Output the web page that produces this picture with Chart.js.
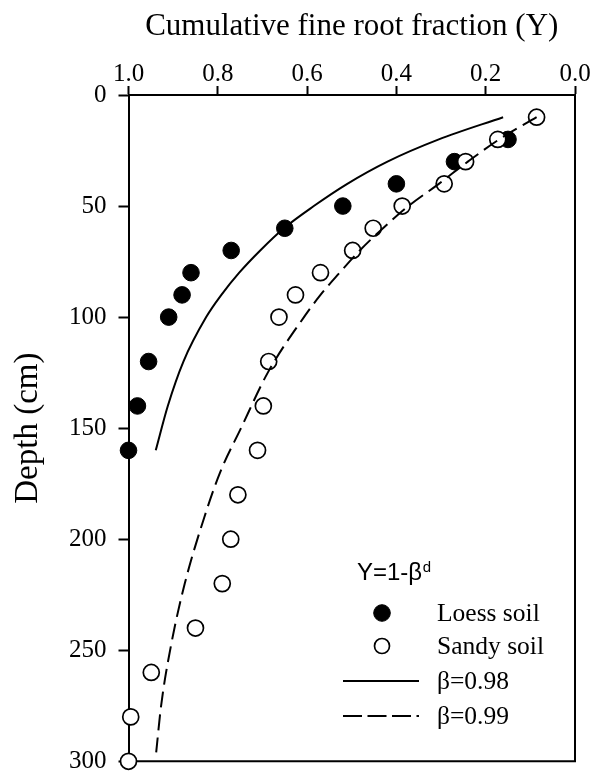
<!DOCTYPE html>
<html><head><meta charset="utf-8">
<script src="https://cdn.jsdelivr.net/npm/chart.js@4.4.0/dist/chart.umd.min.js"></script>
<style>html,body{margin:0;padding:0;background:#fff;}canvas{display:block;}</style>
</head><body>
<canvas id="c" width="603" height="771"></canvas>
<script>
// ---- data ----
const loessDepth = [20, 30, 40, 50, 60, 70, 80, 90, 100, 120, 140, 160];
const loessY     = [0.15, 0.27, 0.40, 0.52, 0.65, 0.77, 0.86, 0.88, 0.91, 0.955, 0.98, 1.0];

const sandyDepth = [10, 20, 30, 40, 50, 60, 70, 80, 90, 100, 120, 140, 160, 180, 200, 220, 240, 260, 280, 300];
const sandyY     = [0.086, 0.173, 0.245, 0.293, 0.387, 0.452, 0.498, 0.57, 0.626, 0.663, 0.686, 0.698, 0.711, 0.755, 0.771, 0.79, 0.85, 0.949, 0.995, 1.0];

const fit98Depth = [10, 20, 30, 40, 50, 60, 70, 80, 90, 100, 120, 140, 160];
const fit98Y     = [0.161, 0.305, 0.42, 0.51, 0.585, 0.652, 0.705, 0.752, 0.792, 0.826, 0.877, 0.912, 0.939];

const fit99Depth = [10, 20, 30, 40, 50, 60, 70, 80, 90, 100, 125, 150, 170, 190, 220, 247, 275, 296];
const fit99Y     = [0.086, 0.17, 0.24, 0.305, 0.373, 0.43, 0.482, 0.527, 0.57, 0.607, 0.688, 0.748, 0.795, 0.830, 0.874, 0.904, 0.927, 0.938];

const xTicks = [1.0, 0.8, 0.6, 0.4, 0.2, 0.0];
const yTicks = [0, 50, 100, 150, 200, 250, 300];
const seriesLabels = ['Loess soil', 'Sandy soil', 'β=0.98', 'β=0.99'];
const xTitle = 'Cumulative fine root fraction (Y)';
const yTitle = 'Depth (cm)';
const legendTitle = 'Y=1-β';
const legendSup = 'd';

const toPts = (xs, ys) => xs.map((x, i) => ({x: x, y: ys[i]}));
const SERIF = '"Liberation Serif", "Times New Roman", serif';
const SANS = '"Liberation Sans", Arial, sans-serif';

const framePlugin = {
  id: 'frame',
  beforeDatasetsDraw(chart) {
    const a = chart.chartArea, c = chart.ctx;
    c.save();
    c.strokeStyle = '#000'; c.lineWidth = 2;
    c.beginPath();
    c.moveTo(a.right, a.top - 1); c.lineTo(a.right, a.bottom);
    c.lineTo(a.left - 1, a.bottom);
    c.stroke();
    c.restore();
  }
};

const legendPlugin = {
  id: 'customLegend',
  afterDatasetsDraw(chart) {
    const c = chart.ctx;
    c.save();
    c.fillStyle = '#000';
    c.textAlign = 'left';
    c.textBaseline = 'alphabetic';
    c.font = '24px ' + SANS;
    c.fillText(legendTitle, 357, 580);
    const w = c.measureText(legendTitle).width;
    c.font = '15px ' + SANS;
    c.fillText(legendSup, 357 + w + 0.5, 572);
    const rows = [613, 646, 681, 716];
    c.font = '25.5px ' + SERIF;
    c.textBaseline = 'middle';
    chart.data.datasets.forEach((d, i) => {
      const y = rows[i];
      if (!d.showLine) {
        c.beginPath();
        c.arc(382, y, i === 0 ? 8.3 : 7.5, 0, Math.PI * 2);
        c.fillStyle = d.pointBackgroundColor; c.fill();
        c.lineWidth = d.pointBorderWidth; c.strokeStyle = d.pointBorderColor; c.stroke();
      } else {
        c.beginPath();
        c.setLineDash(d.borderDash ? [19, 5.5] : []);
        c.moveTo(343, y); c.lineTo(419, y);
        c.lineWidth = d.borderWidth; c.strokeStyle = d.borderColor; c.stroke();
        c.setLineDash([]);
      }
      c.fillStyle = '#000';
      c.fillText(d.label, 437, y + 1);
    });
    c.restore();
  }
};

new Chart(document.getElementById('c'), {
  type: 'scatter',
  data: {
    datasets: [
      {label: seriesLabels[0], data: toPts(loessY, loessDepth), showLine: false,
       pointRadius: 8.3, pointBackgroundColor: '#000', pointBorderColor: '#000', pointBorderWidth: 1, order: 3},
      {label: seriesLabels[1], data: toPts(sandyY, sandyDepth), showLine: false,
       pointRadius: 8, pointBackgroundColor: '#fff', pointBorderColor: '#000', pointBorderWidth: 1.7, order: 2},
      {label: seriesLabels[2], data: toPts(fit98Y, fit98Depth), showLine: true, pointRadius: 0,
       borderColor: '#000', borderWidth: 2, cubicInterpolationMode: 'monotone', fill: false, order: 1},
      {label: seriesLabels[3], data: toPts(fit99Y, fit99Depth), showLine: true, pointRadius: 0,
       borderColor: '#000', borderWidth: 2, borderDash: [16, 7], cubicInterpolationMode: 'monotone', fill: false, order: 0}
    ]
  },
  options: {
    responsive: false, animation: false, devicePixelRatio: 1, clip: false,
    layout: {padding: {left: 0, top: 0, right: 28, bottom: 4}},
    plugins: {legend: {display: false}, tooltip: {enabled: false}},
    scales: {
      x: {
        type: 'linear', position: 'top', reverse: true, min: 0, max: 1,
        afterFit: s => { s.height = 95; s.paddingLeft = 0; s.paddingRight = 0; },
        afterBuildTicks: s => { s.ticks = xTicks.map(v => ({value: v})); },
        grid: {drawOnChartArea: false, drawTicks: true, tickLength: 9, tickWidth: 2, tickColor: '#000'},
        border: {display: true, color: '#000', width: 2},
        ticks: {color: '#000', font: {family: SERIF, size: 25}, padding: -3, maxRotation: 0, autoSkip: false,
                callback: v => Number(v).toFixed(1)},
        title: {display: true, text: xTitle, color: '#000', font: {family: SERIF, size: 31}, padding: {top: 8, bottom: 0}}
      },
      y: {
        type: 'linear', position: 'left', reverse: true, min: 0, max: 300,
        afterFit: s => { s.width = 128.5; s.paddingTop = 0; s.paddingBottom = 0; },
        afterBuildTicks: s => { s.ticks = yTicks.map(v => ({value: v})); },
        grid: {drawOnChartArea: false, drawTicks: true, tickLength: 10, tickWidth: 2, tickColor: '#000'},
        border: {display: true, color: '#000', width: 2},
        ticks: {color: '#000', font: {family: SERIF, size: 25}, padding: 12, autoSkip: false,
                callback: v => String(v)},
        title: {display: true, text: yTitle, color: '#000', font: {family: SERIF, size: 33}, padding: {top: 9, bottom: 0}}
      }
    }
  },
  plugins: [framePlugin, legendPlugin]
});
</script>
</body></html>
